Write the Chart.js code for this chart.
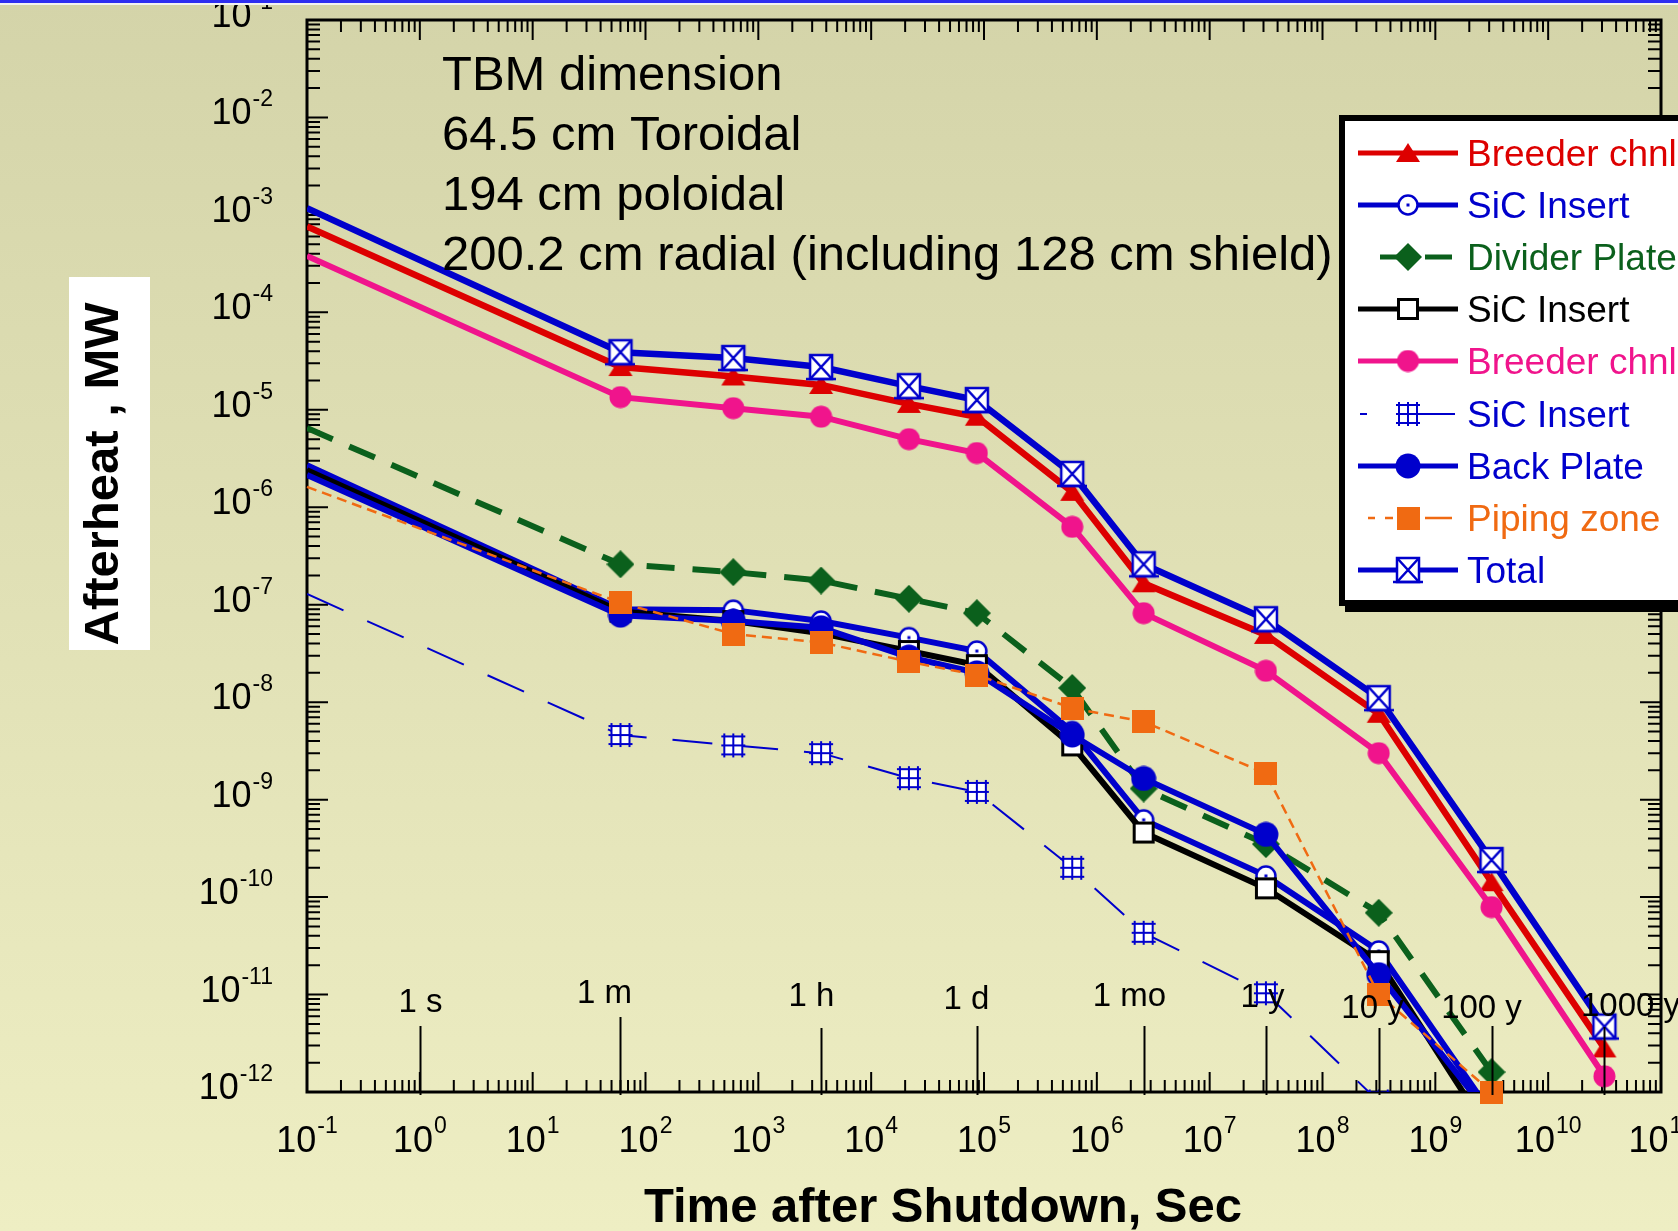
<!DOCTYPE html>
<html>
<head>
<meta charset="utf-8">
<title>Afterheat</title>
<script src="https://cdn.jsdelivr.net/npm/chart.js@4.4.0/dist/chart.umd.min.js"></script>
<style>
    html, body { margin: 0; padding: 0; }
    body { width: 1678px; height: 1231px; overflow: hidden; background: linear-gradient(#d4d4a9, #eeeec3); }
    #wrap { position: relative; width: 1678px; height: 1231px; }
    #afterheat { position: absolute; left: 0; top: 0; }
    #topo { position: absolute; left: 0; top: 0; width: 100%; height: 3px; background: #2e2ef0; border-bottom: 2px solid #f2f2f2; }
</style>
</head>
<body>
<div id="wrap">
    <canvas id="afterheat" width="1678" height="1231"></canvas>
    <div id="topo"></div>
</div>
<script>
// tempo apos o desligamento (s): 0.1 s, 1 min, 10 min, 1 h, 6 h, 1 d, 1 sem, 1 mes, 1 a, 10 a, 100 a, 1000 a
const tempos = [0.1, 60, 600, 3600, 21600, 86400, 604800, 2.6e6, 3.15e7, 3.15e8, 3.15e9, 3.15e10]

// calor residual (MW)
const breederVermelho = [7.6e-4, 2.75e-5, 2.2e-5, 1.8e-5, 1.15e-5, 8.5e-6, 1.44e-6, 1.66e-7, 4.9e-8, 7.6e-9, 1.42e-10, 2.8e-12]
const sicAzul = [2.7e-6, 9.0e-8, 8.8e-8, 6.8e-8, 4.6e-8, 3.35e-8, 5.0e-9, 6.2e-10, 1.65e-10, 2.8e-11, 6e-13, null]
const divisoria = [6.5e-6, 2.6e-7, 2.16e-7, 1.77e-7, 1.15e-7, 8.2e-8, 1.4e-8, 1.3e-9, 3.5e-10, 6.9e-11, 1.6e-12, null]
const sicPreto = [2.4e-6, 8.5e-8, 6.8e-8, 5.1e-8, 3.35e-8, 2.4e-8, 3.6e-9, 4.6e-10, 1.23e-10, 2.2e-11, 3.5e-13, null]
const breederRosa = [3.8e-4, 1.35e-5, 1.04e-5, 8.5e-6, 5.0e-6, 3.6e-6, 6.3e-7, 8.2e-8, 2.1e-8, 3.0e-9, 7.9e-11, 1.45e-12]
const sicTracejado = [1.29e-7, 4.6e-9, 3.6e-9, 3.0e-9, 1.66e-9, 1.2e-9, 2.0e-10, 4.3e-11, 1.03e-11, 8e-13, null, null]
const placaTraseira = [2.15e-6, 7.8e-8, 6.8e-8, 5.8e-8, 2.9e-8, 2.0e-8, 4.6e-9, 1.65e-9, 4.4e-10, 1.6e-11, 5.5e-13, null]
const tubulacao = [1.62e-6, 1.05e-7, 5.0e-8, 4.1e-8, 2.6e-8, 1.9e-8, 8.7e-9, 6.3e-9, 1.86e-9, 1.0e-11, 1.0e-12, null]
const total = [1.17e-3, 3.9e-5, 3.4e-5, 2.75e-5, 1.75e-5, 1.26e-5, 2.2e-6, 2.6e-7, 7.1e-8, 1.1e-8, 2.4e-10, 4.7e-12]

// marcas de tempo no rodape do grafico
const marcosTempo = [1, 60, 3600, 86400, 2.6e6, 3.15e7, 3.15e8, 3.15e9, 3.15e10]
const marcosRotulo = ['1 s', '1 m', '1 h', '1 d', '1 mo', '1 y', '10 y', '100 y', '1000 y']

const anotacao = ['TBM dimension', '64.5 cm Toroidal', '194 cm poloidal', '200.2 cm radial (including 128 cm shield)']

const fonte = '"Liberation Sans", Arial, sans-serif'

function marcador(tipo, cor) {
    const tam = { triangulo: 26, circuloPonto: 24, losango: 28, quadradoAberto: 26, circulo: 23, grade: 26, circuloGrande: 26, quadradoCheio: 23, caixaX: 30 }[tipo]
    const c = document.createElement('canvas')
    c.width = tam
    c.height = tam
    const ctx = c.getContext('2d')
    const m = tam / 2
    ctx.fillStyle = cor
    ctx.strokeStyle = cor
    if (tipo === 'triangulo') {
        ctx.beginPath()
        ctx.moveTo(m, 3)
        ctx.lineTo(tam - 1, tam - 4)
        ctx.lineTo(1, tam - 4)
        ctx.closePath()
        ctx.fill()
    } else if (tipo === 'circuloPonto') {
        ctx.beginPath()
        ctx.arc(m, m, 9.5, 0, Math.PI * 2)
        ctx.fillStyle = '#fff'
        ctx.fill()
        ctx.lineWidth = 2.5
        ctx.stroke()
        ctx.fillStyle = cor
        ctx.fillRect(m - 1.5, m - 1.5, 3, 3)
    } else if (tipo === 'losango') {
        ctx.beginPath()
        ctx.moveTo(m, 0)
        ctx.lineTo(tam, m)
        ctx.lineTo(m, tam)
        ctx.lineTo(0, m)
        ctx.closePath()
        ctx.fill()
    } else if (tipo === 'quadradoAberto') {
        ctx.fillStyle = '#fff'
        ctx.fillRect(2, 2, tam - 4, tam - 4)
        ctx.lineWidth = 3
        ctx.strokeRect(3.5, 3.5, tam - 7, tam - 7)
    } else if (tipo === 'circulo' || tipo === 'circuloGrande') {
        ctx.beginPath()
        ctx.arc(m, m, m - 0.5, 0, Math.PI * 2)
        ctx.fill()
    } else if (tipo === 'grade') {
        ctx.fillStyle = '#fff'
        ctx.fillRect(3, 3, tam - 6, tam - 6)
        ctx.lineWidth = 2
        ctx.beginPath()
        for (const p of [4, 13, 22]) {
            ctx.moveTo(p, 1); ctx.lineTo(p, tam - 1)
            ctx.moveTo(1, p); ctx.lineTo(tam - 1, p)
        }
        ctx.stroke()
    } else if (tipo === 'quadradoCheio') {
        ctx.fillRect(0, 0, tam, tam)
    } else if (tipo === 'caixaX') {
        ctx.fillStyle = '#fff'
        ctx.fillRect(4, 3, tam - 8, tam - 6)
        ctx.lineWidth = 2.5
        ctx.strokeRect(4, 3, tam - 8, tam - 6)
        ctx.beginPath()
        ctx.moveTo(4, 3); ctx.lineTo(tam - 4, tam - 3)
        ctx.moveTo(tam - 4, 3); ctx.lineTo(4, tam - 3)
        ctx.moveTo(0, tam - 3); ctx.lineTo(tam, tam - 3)
        ctx.stroke()
    }
    return c
}

function serie(rotulo, valores, cor, largura, tracos, estilo, ordem, legenda) {
    return {
        label: rotulo,
        data: tempos.map((t, i) => ({ x: t, y: valores[i] })),
        borderColor: cor,
        backgroundColor: cor,
        borderWidth: largura,
        borderDash: tracos,
        pointStyle: marcador(estilo, cor),
        pointRadius: tempos.map((t, i) => i === 0 ? 0 : 8),
        tension: 0,
        order: ordem,
        // inicio e tracejado da amostra de linha na legenda
        amostra: legenda || { x0: 1358, x1: 1458, tracos: [] }
    }
}

const azul = '#0000cc'
const datasets = [
    serie('Breeder chnl', breederVermelho, '#dd0000', 6.5, [], 'triangulo', 8),
    serie('SiC Insert', sicAzul, azul, 6, [], 'circuloPonto', 4),
    serie('Divider Plate', divisoria, '#0b601c', 6, [28, 18], 'losango', 5, { x0: 1380, x1: 1452, tracos: [18, 27, 27] }),
    serie('SiC Insert', sicPreto, '#000000', 6, [], 'quadradoAberto', 3),
    serie('Breeder chnl', breederRosa, '#f0148c', 6, [], 'circulo', 7),
    serie('SiC Insert', sicTracejado, azul, 2, [40, 26], 'grade', 6, { x0: 1360, x1: 1455, tracos: [7, 53, 40] }),
    serie('Back Plate', placaTraseira, azul, 6, [], 'circuloGrande', 2),
    serie('Piping zone', tubulacao, '#f06a12', 2.5, [10, 6], 'quadradoCheio', 1, { x0: 1368, x1: 1452, tracos: [7, 10, 8, 32, 30] }),
    serie('Total', total, azul, 6.5, [], 'caixaX', 0)
]
datasets[7].clip = false

function potencia(ctx, exp, x, yBase, yExp, alinhamento) {
    const base = '10'
    const expo = exp < 0 ? '-' + Math.abs(exp) : String(exp)
    ctx.font = '36px ' + fonte
    const wb = ctx.measureText(base).width
    ctx.font = '23px ' + fonte
    const we = ctx.measureText(expo).width
    let x0 = alinhamento === 'right' ? x - we - wb - 1 : x - (wb + we + 1) / 2
    ctx.textAlign = 'left'
    ctx.textBaseline = 'alphabetic'
    ctx.font = '36px ' + fonte
    ctx.fillText(base, x0, yBase)
    ctx.font = '23px ' + fonte
    ctx.fillText(expo, x0 + wb + 1, yExp)
}

const moldura = {
    id: 'moldura',
    beforeDraw(chart) {
        const ctx = chart.ctx
        ctx.save()
        ctx.fillStyle = '#ffffff'
        ctx.fillRect(69, 277, 81, 373)
        ctx.fillStyle = '#000'
        ctx.font = 'bold 49px ' + fonte
        ctx.textAlign = 'center'
        ctx.textBaseline = 'middle'
        ctx.translate(104, 474)
        ctx.rotate(-Math.PI / 2)
        ctx.fillText('Afterheat , MW', 0, 0)
        ctx.restore()

        ctx.save()
        ctx.fillStyle = '#000'
        ctx.font = 'bold 49px ' + fonte
        ctx.textAlign = 'center'
        ctx.textBaseline = 'alphabetic'
        ctx.fillText('Time after Shutdown, Sec', 943, 1222)
        ctx.restore()
    },
    beforeDatasetsDraw(chart) {
        const ctx = chart.ctx
        const a = chart.chartArea
        const xs = chart.scales.x
        const ys = chart.scales.y
        ctx.save()
        ctx.strokeStyle = '#000'
        ctx.lineWidth = 2
        ctx.beginPath()
        for (let d = -1; d <= 10; d++) {
            for (let k = 1; k <= 9; k++) {
                const px = xs.getPixelForValue(k * Math.pow(10, d))
                const len = k === 1 ? 20 : 12
                ctx.moveTo(px, a.bottom); ctx.lineTo(px, a.bottom - len)
                ctx.moveTo(px, a.top); ctx.lineTo(px, a.top + len)
            }
        }
        for (let d = -12; d <= -2; d++) {
            for (let k = 1; k <= 9; k++) {
                const py = ys.getPixelForValue(k * Math.pow(10, d))
                const len = k === 1 ? 21 : 13
                ctx.moveTo(a.left, py); ctx.lineTo(a.left + len, py)
                ctx.moveTo(a.right, py); ctx.lineTo(a.right - len, py)
            }
        }
        ctx.stroke()
        ctx.lineWidth = 3
        ctx.strokeRect(a.left, a.top, a.right - a.left, a.bottom - a.top)
        ctx.restore()
    },
    afterDatasetsDraw(chart) {
        const ctx = chart.ctx
        const a = chart.chartArea
        const xs = chart.scales.x
        const topoLinha = [1026, 1017, 1028, 1026, 1026, 1026, 1028, 1026, 1027]
        const dx = [0, -16, -10, -11, -15, -4, -7, -11, 26]
        const yRot = [1003, 994, 997, 1000, 997, 998, 1009, 1009, 1007]
        ctx.save()
        ctx.strokeStyle = '#000'
        ctx.fillStyle = '#000'
        ctx.lineWidth = 2
        ctx.font = '33px ' + fonte
        ctx.textAlign = 'center'
        ctx.textBaseline = 'middle'
        marcosTempo.forEach((t, i) => {
            const px = Math.round(xs.getPixelForValue(t)) + 0.5
            ctx.beginPath()
            ctx.moveTo(px, topoLinha[i])
            ctx.lineTo(px, a.bottom + 3)
            ctx.stroke()
            ctx.fillText(marcosRotulo[i], px + dx[i], yRot[i])
        })
        ctx.font = '49px ' + fonte
        ctx.textAlign = 'left'
        ctx.textBaseline = 'alphabetic'
        anotacao.forEach((linha, i) => ctx.fillText(linha, 442, 90 + i * 60))
        ctx.restore()
    },
    afterDraw(chart) {
        const ctx = chart.ctx
        const xs = chart.scales.x
        const ys = chart.scales.y
        ctx.save()
        ctx.fillStyle = '#000'
        for (let d = -12; d <= -1; d++) {
            const py = ys.getPixelForValue(Math.pow(10, d))
            potencia(ctx, d, 273, py + 7, py - 11, 'right')
        }
        for (let d = -1; d <= 11; d++) {
            const px = xs.getPixelForValue(Math.pow(10, d))
            potencia(ctx, d, px, 1152, 1133, 'center')
        }

        // legenda
        ctx.fillStyle = '#000'
        ctx.fillRect(1345, 121, 400, 491)
        ctx.fillRect(1339, 115, 400, 491)
        ctx.fillStyle = '#fff'
        ctx.fillRect(1345, 121, 388, 479)
        chart.data.datasets.forEach((ds, i) => {
            const y = Math.round(153 + i * 52.1)
            ctx.save()
            ctx.strokeStyle = ds.borderColor
            ctx.lineWidth = Math.min(ds.borderWidth, 5)
            ctx.setLineDash(ds.amostra.tracos)
            ctx.beginPath()
            ctx.moveTo(ds.amostra.x0, y)
            ctx.lineTo(ds.amostra.x1, y)
            ctx.stroke()
            ctx.restore()
            const img = ds.pointStyle
            ctx.drawImage(img, 1408 - img.width / 2, y - img.height / 2)
            ctx.fillStyle = ds.borderColor
            ctx.font = '37px ' + fonte
            ctx.textAlign = 'left'
            ctx.textBaseline = 'alphabetic'
            ctx.fillText(ds.label, 1467, y + 13)
        })
        ctx.restore()
    }
}

document.addEventListener('DOMContentLoaded', function () {
    const canvas = document.getElementById('afterheat')

    const config = {
        type: 'line',
        data: { datasets: datasets },
        options: {
            responsive: false,
            animation: false,
            events: [],
            layout: { padding: { left: 307, right: 17, top: 20, bottom: 139 } },
            plugins: {
                legend: { display: false },
                tooltip: { enabled: false }
            },
            scales: {
                x: { type: 'logarithmic', min: 0.1, max: 1e11, display: false },
                y: { type: 'logarithmic', min: 1e-12, max: 1e-1, display: false }
            }
        },
        plugins: [moldura]
    }

    new Chart(canvas, config)
})
</script>
</body>
</html>
